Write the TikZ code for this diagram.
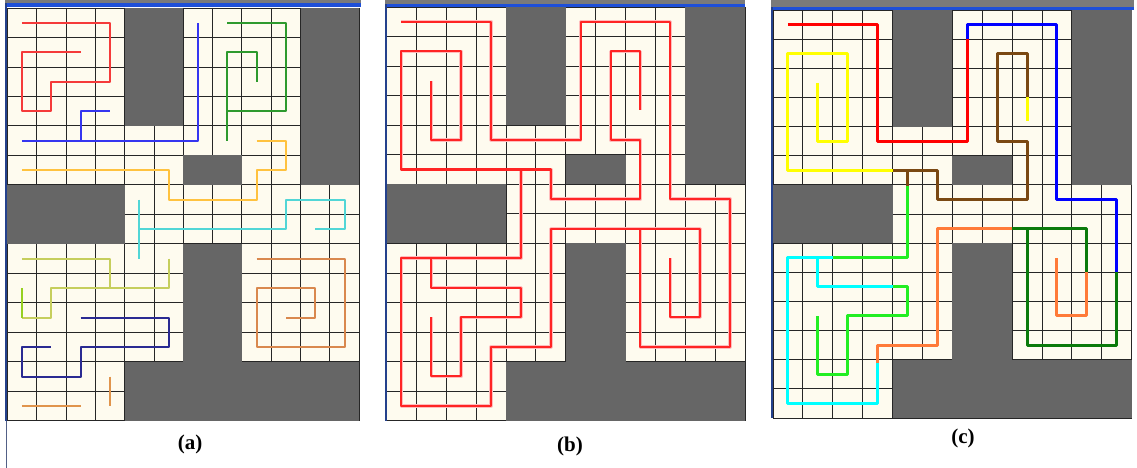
\documentclass[tikz,border=0pt]{standalone}
\usepackage{fontspec}
\setmainfont{Liberation Serif}
\definecolor{cream}{HTML}{FEFBEF}
\definecolor{obst}{HTML}{666666}
\definecolor{topgray}{HTML}{7A7A7A}
\definecolor{topblue}{HTML}{1E4FD8}
\definecolor{edgeblue}{HTML}{24418C}
% panel (a)
\definecolor{aRed}{HTML}{F53A3A}
\definecolor{aBlue}{HTML}{3535F0}
\definecolor{aGreen}{HTML}{2E9A2E}
\definecolor{aGold}{HTML}{FFC23F}
\definecolor{aCyan}{HTML}{52D6D6}
\definecolor{aOlive}{HTML}{C6CE5C}
\definecolor{aLime}{HTML}{96D020}
\definecolor{aNavy}{HTML}{2A2A92}
\definecolor{aOrange}{HTML}{E0944C}
\definecolor{aSpiral}{HTML}{D9884E}
% panel (b)
\definecolor{bRed}{HTML}{FF2424}
% panel (c)
\definecolor{cRed}{HTML}{FF0000}
\definecolor{cBlue}{HTML}{0000FF}
\definecolor{cYellow}{HTML}{FFFF00}
\definecolor{cBrown}{HTML}{7A4812}
\definecolor{cGreen}{HTML}{22EE22}
\definecolor{cCyan}{HTML}{00FFFF}
\definecolor{cOrange}{HTML}{FF7A38}
\definecolor{cDark}{HTML}{0B7A0B}
\tikzset{
  gridln/.style={line width=0.9pt, draw=black!85},
  obstfill/.style={fill=obst},
  pathA/.style={line width=2pt, line join=round},
  pathB/.style={line width=2.1pt, line join=round, draw=bRed},
  glowB/.style={line width=3.4pt, line join=round, draw=bRed!30},
  pathC/.style={line width=3pt, line join=round},
  lab/.style={font=\bfseries\fontsize{21}{21}\selectfont, inner sep=0pt},
}
\newcommand\drawpanel{%
  \fill[cream] (0,0) rectangle (12,14);
  \foreach \i in {0,...,12} {\draw[gridln] (\i,0) -- (\i,14);}
  \foreach \j in {0,...,14} {\draw[gridln] (0,\j) -- (12,\j);}
  \fill[obstfill] (4,0) rectangle (6,4);
  \fill[obstfill] (10,0) rectangle (12,6);
  \fill[obstfill] (6,5) rectangle (8,6);
  \fill[obstfill] (0,6) rectangle (4,8);
  \fill[obstfill] (6,8) rectangle (8,12);
  \fill[obstfill] (4,12) rectangle (12,14);
}
\begin{document}
\begin{tikzpicture}[x=1pt,y=-1pt]
\useasboundingbox (0,0) rectangle (1137,468);
\fill[white] (0,0) rectangle (1137,468);

% ---------------- panel (a)
\begin{scope}[shift={(7.3,8)}, x=29.33pt, y=-29.48pt]
  \drawpanel
  \begin{scope}[shift={(0.5,0.5)}]
    \draw[pathA, aRed] (0,0) -- (3,0) -- (3,2) -- (1,2) -- (1,3) -- (0,3) -- (0,1) -- (2,1);
    \draw[pathA, aBlue] (3,3) -- (2,3) -- (2,4);
    \draw[pathA, aBlue] (0,4) -- (6,4) -- (6,0);
    \draw[pathA, aGreen] (7,0) -- (9,0) -- (9,3) -- (7,3);
    \draw[pathA, aGreen] (7,4) -- (7,1) -- (8,1) -- (8,2);
    \draw[pathA, aGold] (8,4) -- (9,4) -- (9,5) -- (8,5) -- (8,6) -- (5,6) -- (5,5) -- (0,5);
    \draw[pathA, aCyan] (4,6) -- (4,8);
    \draw[pathA, aCyan] (4,7) -- (9,7) -- (9,6) -- (11,6) -- (11,7) -- (10,7);
    \draw[pathA, aOlive] (0,8) -- (3,8) -- (3,9);
    \draw[pathA, aOlive] (5,8) -- (5,9) -- (1,9) -- (1,10) -- (0,10);
    \draw[pathA, aLime] (0,10) -- (0,9);
    \draw[pathA, aNavy] (2,10) -- (5,10) -- (5,11) -- (2,11) -- (2,12) -- (0,12) -- (0,11) -- (1,11);
    \draw[pathA, aOrange] (0,13) -- (2,13);
    \draw[pathA, aOrange] (3,12) -- (3,13);
    \draw[pathA, aSpiral] (8,8) -- (11,8) -- (11,11) -- (8,11) -- (8,9) -- (10,9) -- (10,10) -- (9,10);
  \end{scope}
\end{scope}
\fill[topgray] (5,0) rectangle (360.5,3);
\fill[topblue] (5,3) rectangle (360.5,7.5);
\fill[edgeblue] (5,3) rectangle (7.3,420.7);
\draw[edgeblue!50!gray, line width=0.8pt] (6.2,420.7) -- (6.2,468);

% ---------------- panel (b)
\begin{scope}[shift={(386.5,7)}, x=29.875pt, y=-29.55pt]
  \drawpanel
  \begin{scope}[shift={(0.5,0.5)}]
    \foreach \sty in {glowB,pathB} {
      \draw[\sty] (1,2) -- (1,4) -- (2,4) -- (2,1) -- (0,1) -- (0,5) -- (5,5) -- (5,6) -- (8,6) -- (8,4) -- (7,4) -- (7,1) -- (8,1) -- (8,3);
      \draw[\sty] (0,0) -- (3,0) -- (3,4) -- (6,4) -- (6,0) -- (9,0) -- (9,6) -- (11,6) -- (11,11) -- (8,11) -- (8,7);
      \draw[\sty] (4,5) -- (4,8) -- (0,8) -- (0,13) -- (3,13) -- (3,11) -- (5,11) -- (5,7) -- (10,7) -- (10,10) -- (9,10) -- (9,8);
      \draw[\sty] (1,8) -- (1,9) -- (4,9) -- (4,10) -- (2,10) -- (2,12) -- (1,12) -- (1,10);
    }
  \end{scope}
\end{scope}
\fill[topgray] (385,0) rectangle (745,4);
\fill[topblue] (385,4) rectangle (745,7);
\fill[edgeblue] (385,4) rectangle (386.8,420.7);

% ---------------- panel (c)
\begin{scope}[shift={(773,10)}, x=29.89pt, y=-29.14pt]
  \drawpanel
  \begin{scope}[shift={(0.5,0.5)}]
    \draw[pathC, cRed] (0,0) -- (3,0) -- (3,4) -- (6,4) -- (6,0.5);
    \draw[pathC, cBlue] (6,0.5) -- (6,0) -- (9,0) -- (9,6) -- (11,6) -- (11,8.5);
    \draw[pathC, cYellow] (1,2) -- (1,4) -- (2,4) -- (2,1) -- (0,1) -- (0,5) -- (3.5,5);
    \draw[pathC, cYellow] (8,2.5) -- (8,3.3);
    \draw[pathC, cBrown] (8,2.5) -- (8,1) -- (7,1) -- (7,4) -- (8,4) -- (8,6) -- (5,6) -- (5,5) -- (3.5,5);
    \draw[pathC, cBrown] (4,5) -- (4,5.55);
    \draw[pathC, cGreen] (4,5.55) -- (4,8) -- (1.5,8);
    \draw[pathC, cGreen] (3.5,9) -- (4,9) -- (4,10) -- (2,10) -- (2,12) -- (1,12) -- (1,10);
    \draw[pathC, cCyan] (1.5,8) -- (0,8) -- (0,13) -- (3,13) -- (3,11.6);
    \draw[pathC, cCyan] (1,8) -- (1,9) -- (3.5,9);
    \draw[pathC, cOrange] (3,11.6) -- (3,11) -- (5,11) -- (5,7) -- (7.5,7);
    \draw[pathC, cOrange] (10,8.5) -- (10,10) -- (9,10) -- (9,8);
    \draw[pathC, cDark] (7.5,7) -- (10,7) -- (10,8.5);
    \draw[pathC, cDark] (8,7) -- (8,11) -- (11,11) -- (11,8.5);
  \end{scope}
\end{scope}
\fill[topgray] (771,0) rectangle (1134,7);
\fill[topblue] (771,7) rectangle (1134,10);
\fill[edgeblue] (771,7) rectangle (773,418);

% ---------------- labels
\node[lab] (la) at (190,444) {(a)};
\node[lab] (lb) at (570,446) {(b)};
\node[lab] (lc) at (963,438) {(c)};
\end{tikzpicture}
\end{document}
